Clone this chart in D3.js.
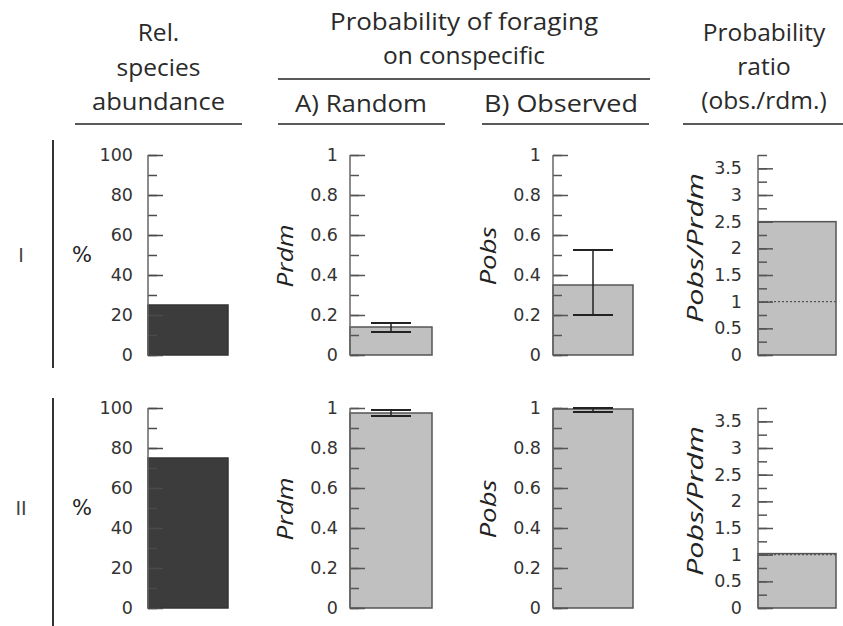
<!DOCTYPE html>
<html><head><meta charset="utf-8">
<script src="https://cdn.jsdelivr.net/npm/d3@7"></script>
<style>body{margin:0;background:#fff}</style>
</head><body>
<svg id="c" width="843" height="626"></svg>
<script>
// ---- data ----
const rowLabels = ["I", "II"];
const abundance = [25, 75];
const prdm = [0.14, 0.975];
const prdmErr = [[0.115, 0.16], [0.96, 0.99]];
const pobs = [0.35, 0.995];
const pobsErr = [[0.2, 0.525], [0.98, 1.0]];
const ratio = [2.5, 1.02];
const ratioRef = [1, 1];
const abundTicks = [0, 20, 40, 60, 80, 100];
const probTicks = [0, 0.2, 0.4, 0.6, 0.8, 1];
const ratioTicks = [0, 0.5, 1, 1.5, 2, 2.5, 3, 3.5];

const svg = d3.select("#c");
const hdrFont = "Open Sans, Lato, sans-serif";
const tickFont = "DejaVu Sans, Arial, sans-serif";

// ---- headers ----
function htext(x, y, t, len) {
  const el = svg.append("text").attr("x", x).attr("y", y).attr("text-anchor", "middle")
    .attr("font-family", hdrFont).attr("font-size", 24.5).attr("fill", "#2a2a2a").text(t);
  if (len) el.attr("textLength", len).attr("lengthAdjust", "spacingAndGlyphs");
}
function hline(x1, x2, y) {
  svg.append("line").attr("x1", x1).attr("x2", x2).attr("y1", y).attr("y2", y)
    .attr("stroke", "#222").attr("stroke-width", 1.6);
}
htext(158.5, 41, "Rel."); htext(158.5, 75.5, "species"); htext(158.5, 110, "abundance", 133);
hline(75, 242, 124);
htext(464, 30, "Probability of foraging", 268); htext(464, 64, "on conspecific");
hline(278, 650, 79);
htext(361, 112, "A) Random", 132); hline(278, 445, 124);
htext(561, 112, "B) Observed", 154); hline(482, 649, 124);
htext(764, 41, "Probability"); htext(764, 75, "ratio"); htext(764, 109, "(obs./rdm.)");
hline(683, 843, 124);

// ---- rows ----
const rowTop = [155, 408];
const rowBottom = [355, 608];
const divider = [[140, 368], [398, 626]];

const panels = [
  { key: "abund", axisX: 148, w: 80, max: 100, major: abundTicks, minorStep: 10, fill: "#3c3c3c", stroke: "#333",
    vals: abundance, err: null, gap: 12, label: "%" },
  { key: "rdm", axisX: 350, w: 82, max: 1, major: probTicks, minorStep: 0.1, fill: "#c0c0c0", stroke: "#555",
    vals: prdm, err: prdmErr, gap: 9, label: "Prdm", len: 63 },
  { key: "obs", axisX: 553, w: 80, max: 1, major: probTicks, minorStep: 0.1, fill: "#c0c0c0", stroke: "#555",
    vals: pobs, err: pobsErr, gap: 9, label: "Pobs", len: 59 },
  { key: "ratio", axisX: 758, w: 78, max: 3.75, major: ratioTicks, minorStep: 0.25, fill: "#c0c0c0", stroke: "#555",
    vals: ratio, err: null, gap: 13, label: "Pobs/Prdm", len: 150, ref: ratioRef }
];
const fmt = d => d3.format("~g")(d);

rowLabels.forEach((rl, r) => {
  const midY = (rowTop[r] + rowBottom[r]) / 2;
  svg.append("text").attr("x", 21).attr("y", midY + 7).attr("text-anchor", "middle")
    .attr("font-family", tickFont).attr("font-size", 19).attr("fill", "#444").text(rl);
  svg.append("line").attr("x1", 53).attr("x2", 53).attr("y1", divider[r][0]).attr("y2", divider[r][1])
    .attr("stroke", "#333").attr("stroke-width", 2);

  panels.forEach(p => {
    const y = d3.scaleLinear().domain([0, p.max]).range([rowBottom[r], rowTop[r]]);
    const x = d3.scaleBand().domain([rl]).range([p.axisX, p.axisX + p.w]).padding(0);
    const g = svg.append("g");
    // bar
    g.append("rect").attr("x", x(rl)).attr("width", x.bandwidth())
      .attr("y", y(p.vals[r])).attr("height", y(0) - y(p.vals[r]))
      .attr("fill", p.fill).attr("stroke", p.stroke).attr("stroke-width", 1.5);
    // reference dotted line
    if (p.ref) {
      g.append("line").attr("x1", p.axisX).attr("x2", p.axisX + p.w)
        .attr("y1", y(p.ref[r])).attr("y2", y(p.ref[r]))
        .attr("stroke", "#555").attr("stroke-width", 1.2).attr("stroke-dasharray", "2,2");
    }
    // axis ticks (minor + major)
    const minor = d3.range(0, p.max + 1e-9, p.minorStep).map(v => +v.toFixed(4));
    const tickCol = p.key === "abund" ? "#4a4a4a" : "#555";
    g.append("g").attr("transform", `translate(${p.axisX},0)`)
      .call(d3.axisRight(y).tickValues(minor).tickSize(9).tickFormat("").tickSizeOuter(0))
      .call(s => s.select(".domain").remove())
      .call(s => s.selectAll("line").attr("stroke", tickCol).attr("stroke-width", 1.5));
    g.append("g").attr("transform", `translate(${p.axisX},0)`)
      .call(d3.axisRight(y).tickValues(p.major).tickSize(15).tickFormat("").tickSizeOuter(0))
      .call(s => s.select(".domain").remove())
      .call(s => s.selectAll("line").attr("stroke", tickCol).attr("stroke-width", 1.5));
    // axis line
    g.append("line").attr("x1", p.axisX).attr("x2", p.axisX)
      .attr("y1", y(p.max)).attr("y2", y(0)).attr("stroke", "#666").attr("stroke-width", 1.5);
    // tick labels
    g.append("g").attr("transform", `translate(${p.axisX - p.gap},0)`)
      .call(d3.axisLeft(y).tickValues(p.major).tickSize(0).tickFormat(fmt))
      .call(s => s.select(".domain").remove())
      .call(s => s.selectAll("text").attr("font-family", tickFont).attr("font-size", 17.5).attr("fill", "#333"));
    // error bar
    if (p.err) {
      const cx = x(rl) + x.bandwidth() / 2, hw = 20;
      const [lo, hi] = p.err[r];
      g.append("line").attr("x1", cx).attr("x2", cx).attr("y1", y(lo)).attr("y2", y(hi))
        .attr("stroke", "#222").attr("stroke-width", 1.5);
      [lo, hi].forEach(v => g.append("line").attr("x1", cx - hw).attr("x2", cx + hw)
        .attr("y1", y(v)).attr("y2", y(v)).attr("stroke", "#222").attr("stroke-width", 2));
    }
    // y label
    if (p.key === "abund") {
      svg.append("text").attr("x", 82).attr("y", midY + 7).attr("text-anchor", "middle")
        .attr("font-family", tickFont).attr("font-size", 21).attr("fill", "#222").text(p.label);
    } else {
      const lx = p.key === "ratio" ? p.axisX - 55 : p.axisX - 57;
      const ly = p.key === "ratio" ? midY - 7 : midY + 1;
      svg.append("text").attr("transform", `translate(${lx},${ly}) rotate(-90)`)
        .attr("text-anchor", "middle").attr("font-family", hdrFont).attr("font-style", "italic")
        .attr("font-size", 22).attr("fill", "#222")
        .attr("textLength", p.len).attr("lengthAdjust", "spacingAndGlyphs")
        .text(p.label);
    }
  });
});
</script>
</body></html>
